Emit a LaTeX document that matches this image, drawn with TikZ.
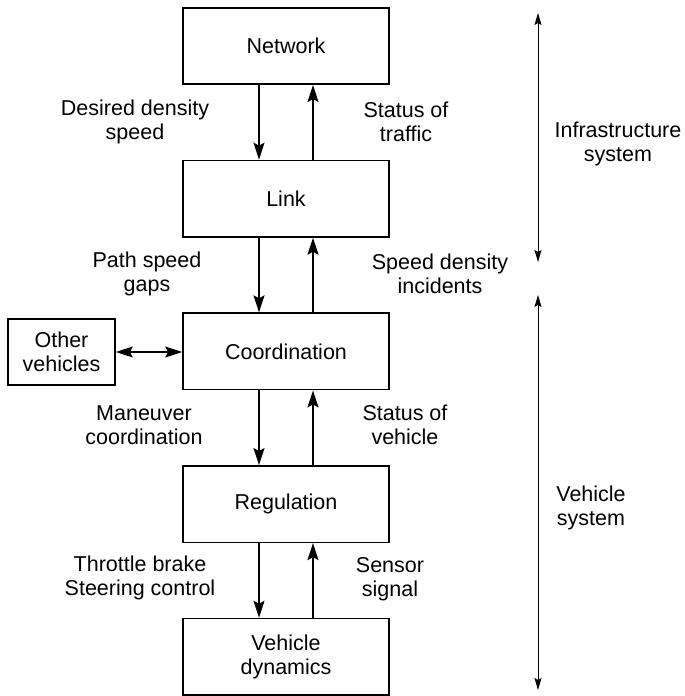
\documentclass[tikz,border=0pt]{standalone}
\usepackage{fontspec}
\setmainfont{Liberation Sans}
\usetikzlibrary{positioning,arrows.meta}

\tikzset{
  block/.style={draw,line width=1.6pt,minimum width=206pt,minimum height=76.5pt,align=center},
  smallblock/.style={draw,line width=1.6pt,minimum width=107pt,minimum height=66pt,align=center},
  lbl/.style={align=center},
  tip/.style={Stealth[length=17pt,width=11pt,inset=3pt]},
  flow/.style={line width=1.6pt,-{Stealth[length=17pt,width=11pt,inset=3pt]}},
  both/.style={line width=1.6pt,{Stealth[length=17pt,width=11pt,inset=3pt]}-{Stealth[length=17pt,width=11pt,inset=3pt]}},
  span/.style={line width=0.9pt,{Stealth[length=12pt,width=7pt,inset=2pt]}-{Stealth[length=12pt,width=7pt,inset=2pt]}}
}

\begin{document}
\begin{tikzpicture}[x=1pt,y=-1pt,font=\fontsize{21.5}{24}\selectfont,node distance=74.6pt]
\useasboundingbox (0,0) rectangle (685,696);

\node[block] (net) at (286,46) {Network};
\node[block,below=of net] (link) {Link};
\node[block,below=of link] (coord) {Coordination};
\node[block,below=of coord] (reg) {Regulation};
\node[block,below=of reg] (dyn) {Vehicle\\dynamics};
\node[smallblock] (other) at (61.5,352) {Other\\vehicles};

\draw[flow] ([xshift=-27pt]net.south) -- ([xshift=-27pt]link.north);
\draw[flow] ([xshift=27pt]link.north) -- ([xshift=27pt]net.south);
\draw[flow] ([xshift=-27pt]link.south) -- ([xshift=-27pt]coord.north);
\draw[flow] ([xshift=27pt]coord.north) -- ([xshift=27pt]link.south);
\draw[flow] ([xshift=-27pt]coord.south) -- ([xshift=-27pt]reg.north);
\draw[flow] ([xshift=27pt]reg.north) -- ([xshift=27pt]coord.south);
\draw[flow] ([xshift=-27pt]reg.south) -- ([xshift=-27pt]dyn.north);
\draw[flow] ([xshift=27pt]dyn.north) -- ([xshift=27pt]reg.south);
\draw[both] (other.east) -- (other.east -| coord.west);

\node[lbl] (desired) at (135,121.5) {Desired density\\speed};
\node[lbl] (traffic) at (406,121.5) {Status of\\traffic};
\node[lbl] (path) at (147,273.5) {Path speed\\gaps};
\node[lbl] (incid) at (440,273.5) {Speed density\\incidents};
\node[lbl] (maneuver) at (144,425) {Maneuver\\coordination};
\node[lbl] (vstatus) at (405,425) {Status of\\vehicle};
\node[lbl] (throttle) at (140,578) {Throttle brake\\Steering control};
\node[lbl] (sensor) at (390,579) {Sensor\\signal};

\coordinate (infratop) at (538,13);
\coordinate (infrabot) at (538,262);
\coordinate (vehtop) at (538,295);
\coordinate (vehbot) at (538,690);
\draw[span] (infratop) -- (infrabot);
\draw[span] (vehtop) -- (vehbot);
\node[lbl] (infra) at (618,144) {Infrastructure\\system};
\node[lbl] (vehsys) at (591,508) {Vehicle\\system};
\end{tikzpicture}
\end{document}
